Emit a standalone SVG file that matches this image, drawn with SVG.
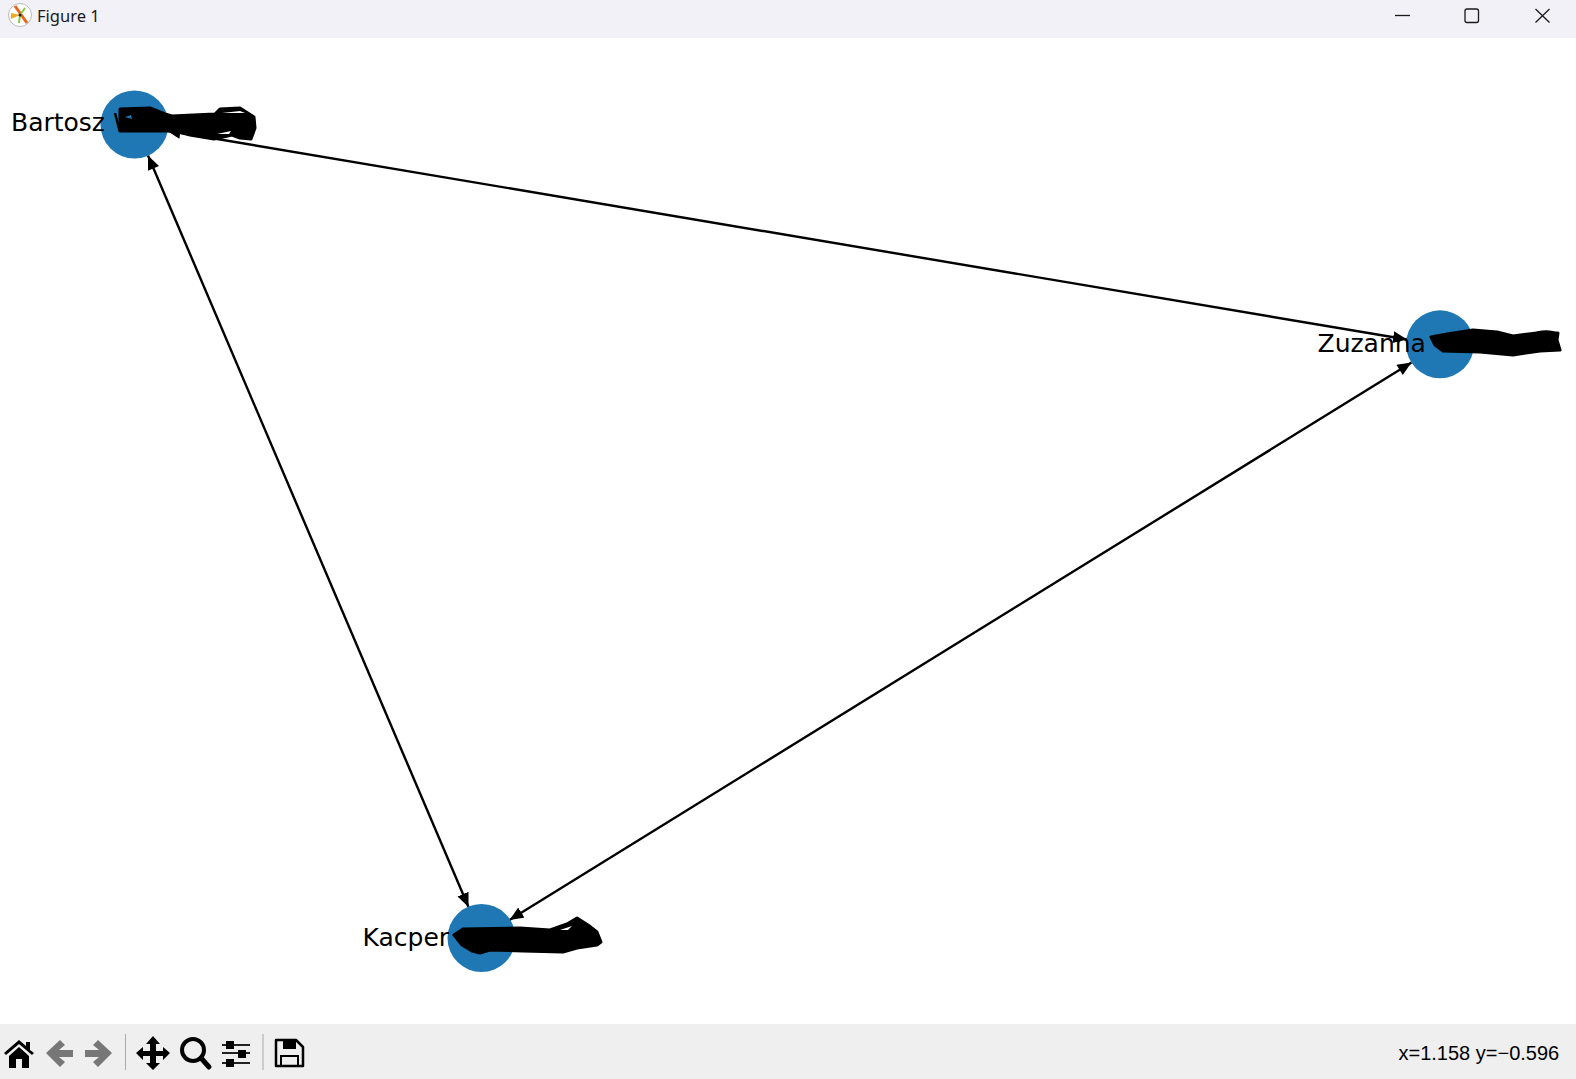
<svg xmlns="http://www.w3.org/2000/svg" width="1576" height="1079" viewBox="0 0 1576 1079">
<style>
.lbl{font-family:"DejaVu Sans",sans-serif;font-size:25px;fill:#000}
.n{fill:#1f78b4}
.e{stroke:#000;stroke-width:2.400;fill:none;marker-end:url(#a);marker-start:url(#b)}
.s{fill:#000;stroke:#000;stroke-width:3;stroke-linejoin:round}
.o{fill:none;stroke:#000;stroke-width:3}
.ui{font-family:"Segoe UI","Noto Sans",sans-serif;font-size:16.500px;fill:#1a1a1a}
.st{font-family:"Liberation Sans",sans-serif;font-size:20px;fill:#000}
.w{fill:none;stroke:#1a1a1a;stroke-width:1.3}
</style>
<defs>
<marker id="a" markerUnits="userSpaceOnUse" markerWidth="15" markerHeight="13" refX="14" refY="6.500" orient="auto"><path d="M0 0.500L14 6.500L0 12.500Z" fill="#000"/></marker>
<marker id="b" markerUnits="userSpaceOnUse" markerWidth="15" markerHeight="13" refX="0" refY="6.500" orient="auto"><path d="M14 0.500L0 6.500L14 12.500Z" fill="#000"/></marker>
</defs>
<rect width="1576" height="1079" fill="#fff"/>
<g id="titlebar">
<rect width="1576" height="38" fill="#f1f1f7"/>
<circle cx="20" cy="15" r="11.500" fill="#fff" stroke="#bbb"/>
<path d="M15 6L27 23" stroke="#e8641b" stroke-width="3"/>
<path d="M11 13L20 15L11 19Z" fill="#f5a81c"/>
<path d="M20 15L25 8M20 15L19 23" stroke="#8cc63f" stroke-width="2"/>
<circle cx="20" cy="15" r="1.500" fill="#222"/>
<text class="ui" x="37" y="21.500">Figure 1</text>
<path class="w" d="M1395 15.500H1410"/>
<rect class="w" x="1465" y="9" width="13.500" height="13.500" rx="2"/>
<path class="w" d="M1535.500 9L1549.500 22.500M1549.500 9L1535.500 22.500"/>
</g>
<g id="connectors">
<path class="e" d="M166.500 130.500L1407 339.500"/>
<path class="e" d="M148 155.500L468.500 907"/>
<path class="e" d="M1411.500 362.500L509.500 920"/>
</g>
<g id="node-bartosz">
<circle class="n" cx="134.500" cy="124.500" r="34"/>
<text class="lbl" x="11" y="131">Bartosz W</text>
<path class="s" d="M120 109L150 108L165 114L172 116L215 114L220 109L240 108L254 117L255 128L251 139L240 138L232 135L214 139L190 135L175 131L120 131Z"/>
<path d="M125 117L131 115L132 119Z" fill="#1f78b4"/>
<path d="M217 134L231 131L229 134Z" fill="#fff"/>
<path d="M222 113L240 111L245 113Z" fill="#fff"/>
</g>
<g id="node-zuzanna">
<circle class="n" cx="1440" cy="344.300" r="34"/>
<text class="lbl" x="1317.500" y="352">Zuzanna</text>
<path class="s" d="M1431 337L1447 334L1473 330L1497 332L1513 336L1537 333L1558 333L1557 340L1560 350L1540 351L1533 352L1513 355L1480 352L1443 351L1435 345Z"/>
<path class="o" d="M1537 333Q1550 330 1558 335"/>
</g>
<g id="node-kacper">
<circle class="n" cx="481.500" cy="938" r="34"/>
<text class="lbl" x="362.500" y="946">Kacper</text>
<path class="s" d="M454 935L463 929L520 928L550 930L567 924L577 918L588 925L597 932L601 942L597 945L577 948L563 952L523 951L490 950L480 953L472 951L462 945Z"/>
<path d="M560 930L572 926L568 930Z" fill="#fff"/>
</g>
<g id="toolbar">
<rect y="1024" width="1576" height="55" fill="#efefef"/>
<path d="M4 1053L19 1040L26 1046V1042H30V1050L34 1053L32 1055L19 1044L6 1055ZM9 1056L19 1047L29 1056V1068H22V1059H16V1068H9Z" fill="#000"/>
<path d="M46 1053L60 1040L65 1045L59 1050H73V1057H59L65 1062L60 1067Z" fill="#777"/>
<path d="M112 1053L98 1040L93 1045L99 1050H85V1057H99L93 1062L98 1067Z" fill="#777"/>
<path d="M125.500 1034V1070M263 1034V1070" stroke="#aaa"/>
<path d="M153 1036L160 1044H156V1051H163V1047L170 1053L163 1060V1056H156V1063H160L153 1070L146 1063H150V1056H143V1060L136 1053L143 1047V1051H150V1044H146Z" fill="#000"/>
<circle cx="193" cy="1050" r="11" fill="none" stroke="#000" stroke-width="4"/>
<path d="M201 1058L209 1067" stroke="#000" stroke-width="5" stroke-linecap="round"/>
<path d="M222 1045H250M222 1053H250M222 1063H250" stroke="#222" stroke-width="2"/>
<path d="M226 1041h8v8h-8zM238 1050h8v8h-8zM226 1059h8v8h-8z" fill="#000"/>
<path d="M276 1040H296L303 1047V1066H276Z" fill="none" stroke="#000" stroke-width="2.500" stroke-linejoin="round"/>
<path d="M283 1040H296V1049H283Z" fill="#000"/>
<path d="M281 1056H298V1066H281Z" fill="none" stroke="#000" stroke-width="2"/>
<text class="st" x="1398.500" y="1059.500">x=1.158 y=−0.596</text>
</g>
</svg>
